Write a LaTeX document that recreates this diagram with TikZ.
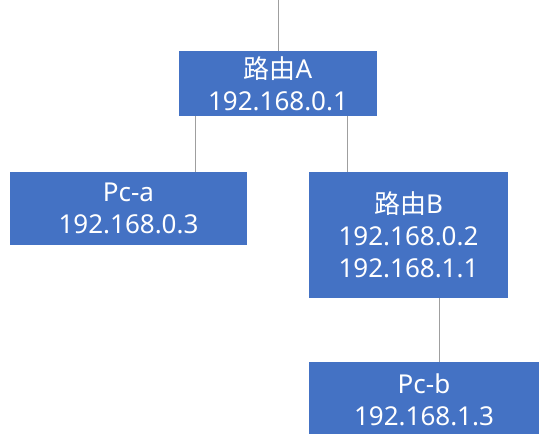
\documentclass[tikz,border=0pt]{standalone}
\usepackage{fontspec}
\setmainfont{Noto Sans}
\newfontfamily\cjk{Noto Sans CJK SC}
\definecolor{boxblue}{HTML}{4472C4}

\begin{document}
\begin{tikzpicture}
[
x=1pt,y=1pt,
netbox/.style 2 args={fill=boxblue,text=white,align=center,inner sep=0pt,
            minimum width=#1,minimum height=#2,
            font=\fontsize{26}{32}\selectfont},
wire/.style={draw=gray!75,line width=0.8pt},
]
\useasboundingbox (0,0) rectangle (539,434);
\clip (0,0) rectangle (539,434);

%Place the nodes
\node[netbox={198pt}{65pt}] (routerA) at (278,350.5) {{\cjk 路由}A\\192.168.0.1};
\node[netbox={237pt}{73pt}] (pca) at (128.5,225.5) {Pc-a\\192.168.0.3};
\node[netbox={199pt}{126pt}] (routerB) at (408.5,199) {{\cjk 路由}B\\192.168.0.2\\192.168.1.1};
\node[netbox={230pt}{76pt}] (pcb) at (424,34) {Pc-b\\192.168.1.3};
\coordinate (uplink) at (278,434);

%Draw the connections
\draw[wire] (uplink) -- (routerA);
\draw[wire] ([xshift=17pt]routerA.south west) -- ([xshift=17pt]routerA.south west |- pca.north);
\draw[wire] ([xshift=-30pt]routerA.south east) -- ([xshift=-30pt]routerA.south east |- routerB.north);
\draw[wire] ([xshift=-69pt]routerB.south east) -- ([xshift=-69pt]routerB.south east |- pcb.north);
\end{tikzpicture}
\end{document}
